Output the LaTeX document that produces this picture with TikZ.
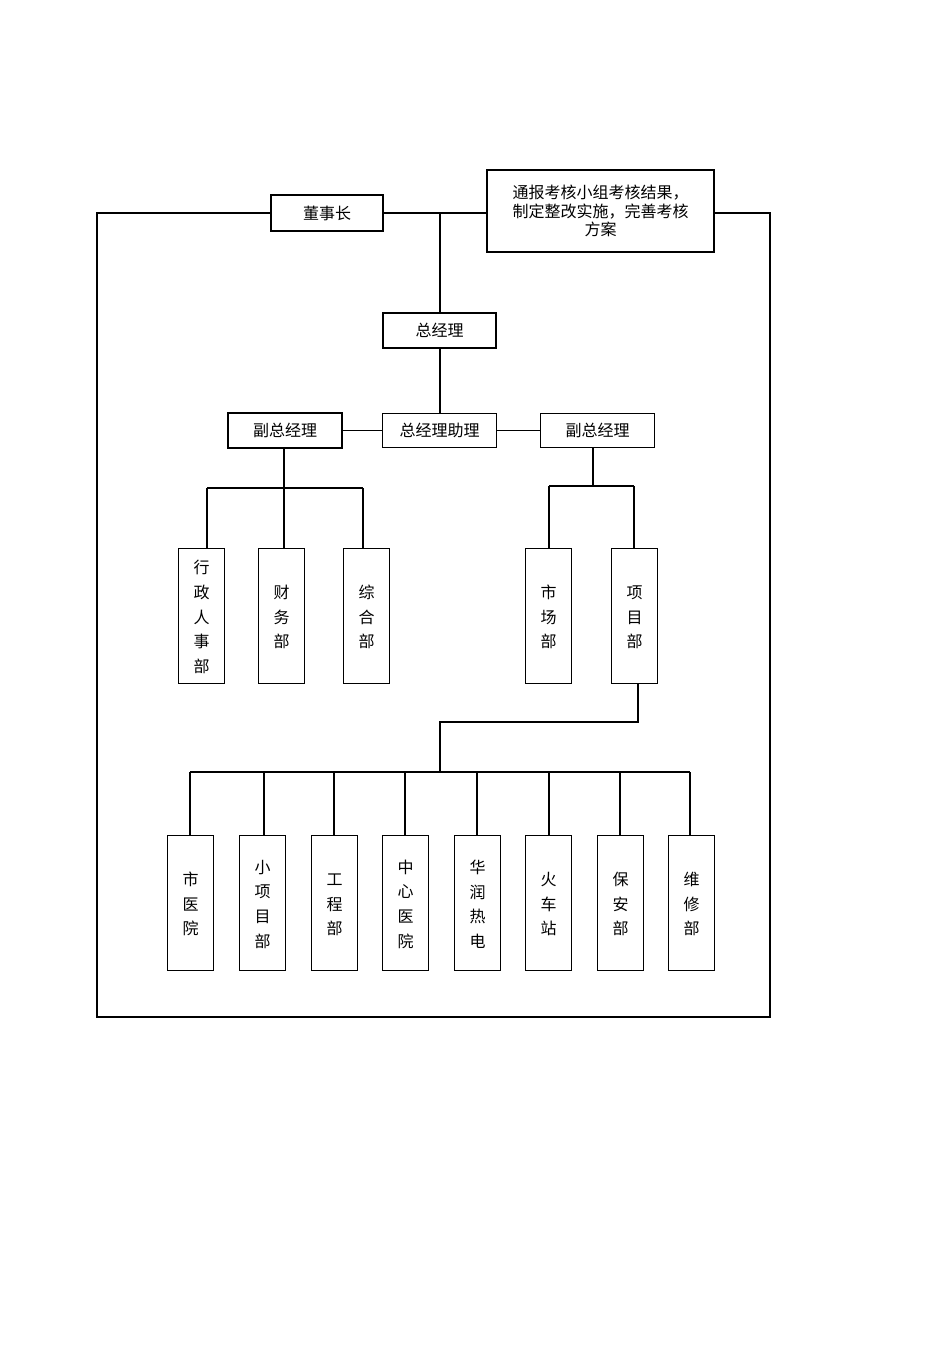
\documentclass[tikz,border=0pt]{standalone}
\usepackage{fontspec}
\newfontfamily\cjk{Noto Sans CJK SC}
\begin{document}
\begin{tikzpicture}[x=0.75pt,y=-0.75pt,line width=0.9pt,
  box/.style={draw,inner sep=0pt,font=\cjk\fontsize{12}{14}\selectfont},
  vbox/.style={draw,inner sep=0pt,font=\cjk\fontsize{12}{18.5}\selectfont,align=center},
  thick box/.style={box,line width=1.4pt}]
\useasboundingbox (0,0) rectangle (950,1345);
\newcommand\bx[6]{\node[#6,minimum width={(#3-#2)*0.75pt},minimum height={(#5-#4)*0.75pt}] (#1) at ({(#2+#3)/2},{(#4+#5)/2}) {};}
\node[box,minimum width=84pt,minimum height=27pt] (dsz) at (327,213) {董事长};
\node[box,minimum width=170pt,minimum height=61.5pt,align=center,line width=1.2pt] (note) at (600.5,211) {通报考核小组考核结果，\\制定整改实施，完善考核\\方案};
\node[thick box,minimum width=85pt,minimum height=26pt] (zjl) at (439.5,330.5) {总经理};
\node[thick box,minimum width=85pt,minimum height=26pt] (fl) at (285,430.5) {副总经理};
\node[box,minimum width=85pt,minimum height=26pt] (zl) at (439.5,430.5) {总经理助理};
\node[box,minimum width=85pt,minimum height=26pt] (fr) at (597.5,430.5) {副总经理};
\foreach \n/\x/\t in {a/201.5/行\\政\\人\\事\\部, b/281.5/财\\务\\部, c/366.5/综\\合\\部, d/548.5/市\\场\\部, e/634.5/项\\目\\部}
  \node[vbox,minimum width=34pt,minimum height=101pt,anchor=north] (\n) at (\x,548) {\rule{0pt}{12pt}\t};
\foreach \n/\x/\t in {p1/190.5/市\\医\\院, p2/262.5/小\\项\\目\\部, p3/334.5/工\\程\\部, p4/405.5/中\\心\\医\\院, p5/477.5/华\\润\\热\\电, p6/548.5/火\\车\\站, p7/620.5/保\\安\\部, p8/691.5/维\\修\\部}
  \node[vbox,minimum width=34pt,minimum height=101pt,anchor=north] (\n) at (\x,835) {\rule{0pt}{12pt}\t};
% frame
\draw (dsz.west) -- (97,213) -- (97,1017) -- (770,1017) -- (770,213) -- (note.east |- 0,213);
\draw (dsz.east) -- (note.west |- 0,213);
\draw (440,213) -- (zjl.north -| 440,0);
\draw (zjl.south -| 440,0) -- (zl.north -| 440,0);
\draw (fl.east) -- (zl.west);
\draw (zl.east) -- (fr.west);
\draw (fl.south -| 284,0) -- (284,488);
\draw (207,488) -- (363,488);
\draw (207,488) -- (a.north -| 207,0);
\draw (284,488) -- (b.north -| 284,0);
\draw (363,488) -- (c.north -| 363,0);
\draw (fr.south -| 593,0) -- (593,486);
\draw (549,486) -- (634,486);
\draw (549,486) -- (d.north -| 549,0);
\draw (634,486) -- (e.north -| 634,0);
\draw (e.south -| 638,0) -- (638,722) -- (440,722) -- (440,772);
\draw (190,772) -- (690,772);
\foreach \n/\x in {p1/190,p2/264,p3/334,p4/405,p5/477,p6/549,p7/620,p8/690}
  \draw (\x,772) -- (\n.north -| \x,0);
\end{tikzpicture}
\end{document}
